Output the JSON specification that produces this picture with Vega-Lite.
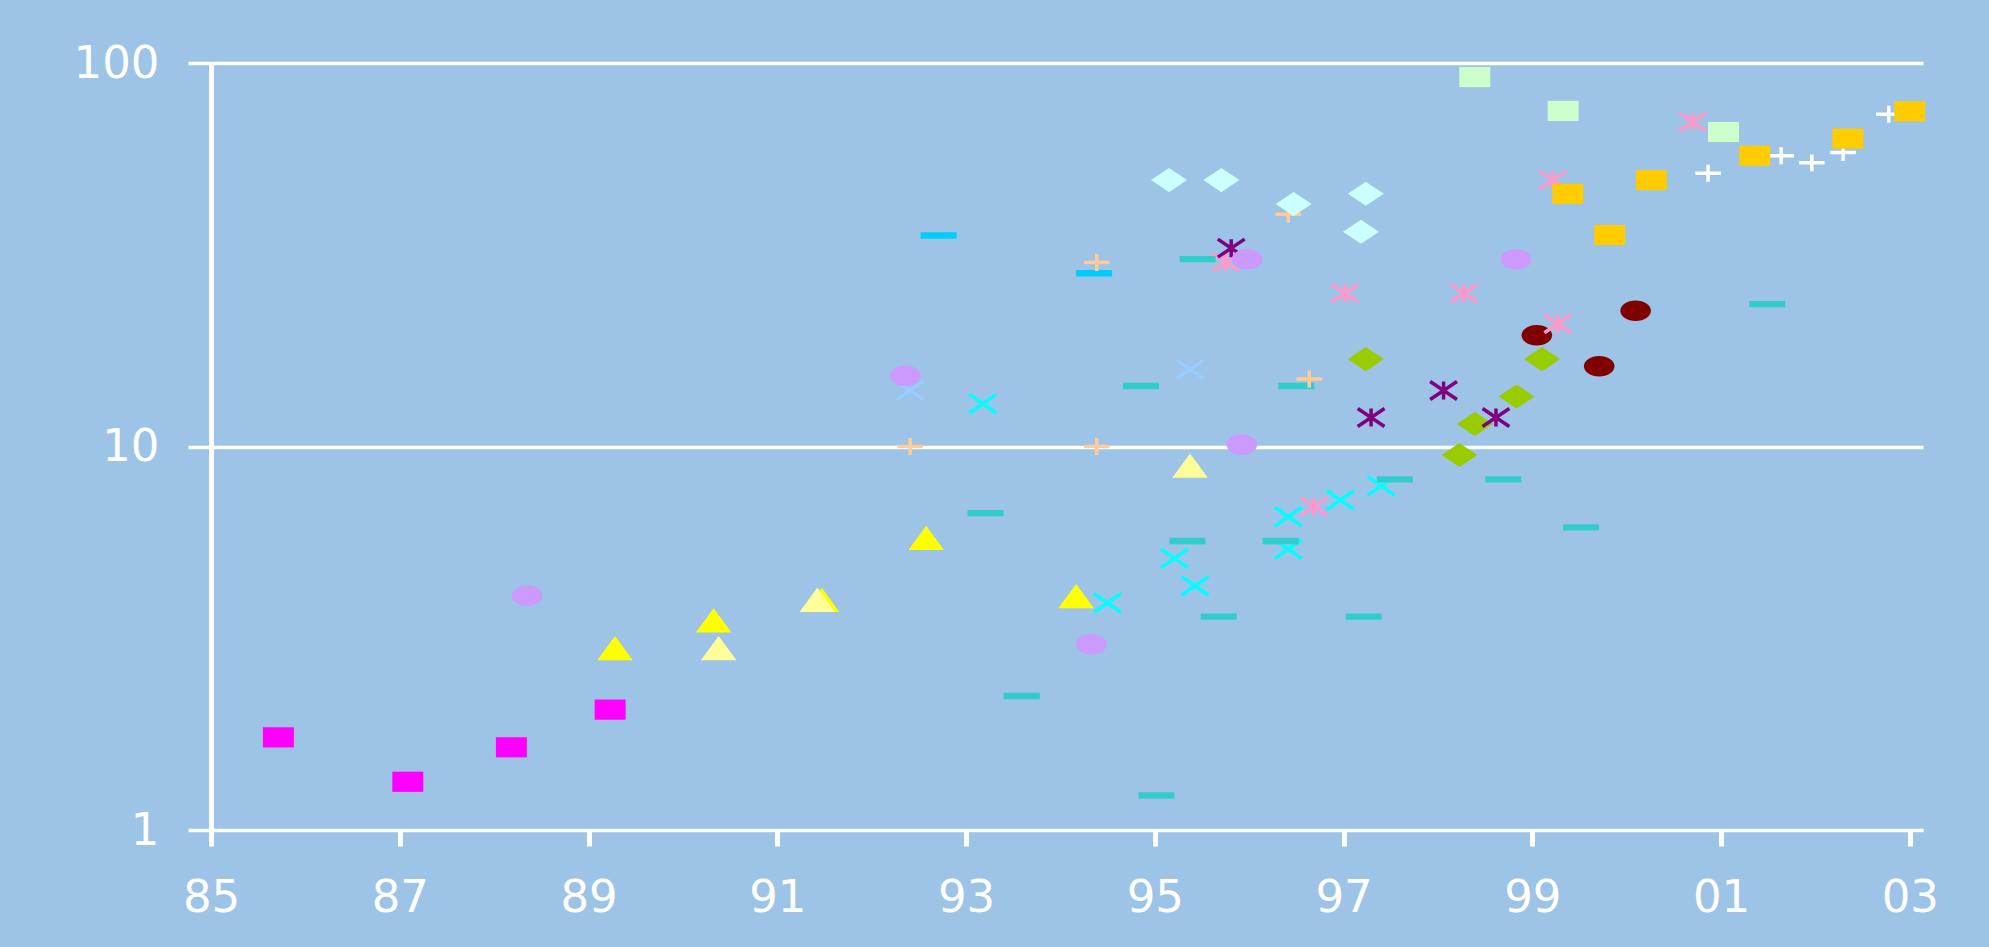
{
  "$schema": "https://vega.github.io/schema/vega-lite/v6.json",
  "width": 1712,
  "height": 767,
  "autosize": {"type": "none"},
  "padding": {"left": 211, "top": 63, "right": 66, "bottom": 117},
  "background": "#9DC3E6",
  "config": {
    "view": {"stroke": null},
    "axis": {
      "labelFont": "DejaVu Sans",
      "labelFontSize": 45,
      "labelColor": "#FFFFFF",
      "domainColor": "#FFFFFF",
      "tickColor": "#FFFFFF",
      "gridColor": "#FFFFFF",
      "gridOpacity": 1,
      "title": null,
      "labelOverlap": false,
      "labelFlush": false
    }
  },
  "data": {
    "values": [
      {"s": "s01", "yr": 1999.048, "v": 19.5},
      {"s": "s01", "yr": 2000.095, "v": 22.6},
      {"s": "s01", "yr": 1999.709, "v": 16.2},

      {"s": "s02", "yr": 2000.863, "v": 51.6},
      {"s": "s02", "yr": 2001.637, "v": 57.3},
      {"s": "s02", "yr": 2001.962, "v": 54.9},
      {"s": "s02", "yr": 2002.293, "v": 58.4},
      {"s": "s02", "yr": 2002.777, "v": 73.5},

      {"s": "s03", "yr": 1995.752, "v": 30.2},
      {"s": "s03", "yr": 1996.689, "v": 6.97},
      {"s": "s03", "yr": 1997.018, "v": 25.1},
      {"s": "s03", "yr": 1998.278, "v": 25.1},
      {"s": "s03", "yr": 1999.215, "v": 49.5},
      {"s": "s03", "yr": 1999.270, "v": 20.9},
      {"s": "s03", "yr": 2000.696, "v": 70.3},

      {"s": "s04", "yr": 1999.377, "v": 45.6},
      {"s": "s04", "yr": 1999.820, "v": 35.6},
      {"s": "s04", "yr": 2000.262, "v": 49.5},
      {"s": "s04", "yr": 2001.357, "v": 57.3},
      {"s": "s04", "yr": 2002.344, "v": 63.5},
      {"s": "s04", "yr": 2003.000, "v": 74.8},

      {"s": "s05", "yr": 1993.178, "v": 12.93},
      {"s": "s05", "yr": 1994.499, "v": 3.91},
      {"s": "s05", "yr": 1995.208, "v": 5.11},
      {"s": "s05", "yr": 1995.426, "v": 4.33},
      {"s": "s05", "yr": 1996.415, "v": 6.56},
      {"s": "s05", "yr": 1996.415, "v": 5.40},
      {"s": "s05", "yr": 1996.966, "v": 7.25},
      {"s": "s05", "yr": 1997.399, "v": 7.89},

      {"s": "s06", "yr": 1993.207, "v": 6.70},
      {"s": "s06", "yr": 1993.591, "v": 2.236},
      {"s": "s06", "yr": 1995.019, "v": 1.23},
      {"s": "s06", "yr": 1995.345, "v": 5.67},
      {"s": "s06", "yr": 1995.677, "v": 3.60},
      {"s": "s06", "yr": 1996.334, "v": 5.67},
      {"s": "s06", "yr": 1997.213, "v": 3.60},
      {"s": "s06", "yr": 1997.543, "v": 8.21},
      {"s": "s06", "yr": 1998.694, "v": 8.21},
      {"s": "s06", "yr": 1999.517, "v": 6.15},
      {"s": "s06", "yr": 1995.455, "v": 30.8},
      {"s": "s06", "yr": 1994.854, "v": 14.38},
      {"s": "s06", "yr": 1996.499, "v": 14.38},
      {"s": "s06", "yr": 2001.491, "v": 23.5},

      {"s": "s07", "yr": 1989.281, "v": 2.98},
      {"s": "s07", "yr": 1990.326, "v": 3.52},
      {"s": "s07", "yr": 1991.471, "v": 3.98},
      {"s": "s07", "yr": 1992.578, "v": 5.78},
      {"s": "s07", "yr": 1994.167, "v": 4.07},

      {"s": "s08", "yr": 1990.379, "v": 2.98},
      {"s": "s08", "yr": 1991.424, "v": 3.98},
      {"s": "s08", "yr": 1995.374, "v": 8.91},

      {"s": "s09", "yr": 1992.408, "v": 14.0},
      {"s": "s09", "yr": 1995.374, "v": 15.9},

      {"s": "s10", "yr": 1992.710, "v": 35.5},
      {"s": "s10", "yr": 1994.357, "v": 28.3},

      {"s": "s11", "yr": 1992.408, "v": 10.0},
      {"s": "s11", "yr": 1994.385, "v": 10.0},
      {"s": "s11", "yr": 1994.385, "v": 30.2},
      {"s": "s11", "yr": 1996.415, "v": 40.3},
      {"s": "s11", "yr": 1996.637, "v": 15.0},

      {"s": "s12", "yr": 1997.236, "v": 16.9},
      {"s": "s12", "yr": 1998.228, "v": 9.5},
      {"s": "s12", "yr": 1998.391, "v": 11.45},
      {"s": "s12", "yr": 1998.833, "v": 13.5},
      {"s": "s12", "yr": 1999.103, "v": 16.9},

      {"s": "s13", "yr": 1995.810, "v": 32.9},
      {"s": "s13", "yr": 1997.292, "v": 11.9},
      {"s": "s13", "yr": 1998.060, "v": 14.0},
      {"s": "s13", "yr": 1998.615, "v": 11.9},

      {"s": "s14", "yr": 1988.349, "v": 4.08},
      {"s": "s14", "yr": 1992.356, "v": 15.3},
      {"s": "s14", "yr": 1994.328, "v": 3.05},
      {"s": "s14", "yr": 1995.923, "v": 10.1},
      {"s": "s14", "yr": 1995.979, "v": 30.8},
      {"s": "s14", "yr": 1998.829, "v": 30.8},

      {"s": "s15", "yr": 1985.714, "v": 1.744},
      {"s": "s15", "yr": 1987.085, "v": 1.336},
      {"s": "s15", "yr": 1988.183, "v": 1.643},
      {"s": "s15", "yr": 1989.229, "v": 2.06},

      {"s": "s16", "yr": 1995.151, "v": 49.5},
      {"s": "s16", "yr": 1995.705, "v": 49.5},
      {"s": "s16", "yr": 1996.472, "v": 42.9},
      {"s": "s16", "yr": 1997.185, "v": 36.3},
      {"s": "s16", "yr": 1997.236, "v": 45.6},

      {"s": "s17", "yr": 1998.391, "v": 91.9},
      {"s": "s17", "yr": 1999.327, "v": 75.0},
      {"s": "s17", "yr": 2001.026, "v": 66.1}
    ]
  },
  "mark": {"type": "point", "opacity": 1, "size": 1296},
  "encoding": {
    "x": {
      "field": "yr",
      "type": "quantitative",
      "scale": {"domain": [1985, 2003.14], "nice": false, "zero": false},
      "axis": {
        "values": [1985, 1987, 1989, 1991, 1993, 1995, 1997, 1999, 2001, 2003],
        "labelExpr": "slice(toString(datum.value), 2)",
        "grid": false,
        "domainWidth": 3,
        "tickWidth": 5,
        "tickSize": 16,
        "labelPadding": 29
      }
    },
    "y": {
      "field": "v",
      "type": "quantitative",
      "scale": {"type": "log", "domain": [1, 100], "nice": false},
      "axis": {
        "values": [1, 10, 100],
        "labelExpr": "toString(datum.value)",
        "grid": true,
        "gridWidth": 3.5,
        "domainWidth": 5,
        "tickWidth": 3.5,
        "tickSize": 23,
        "labelPadding": 29
      }
    },
    "shape": {
      "field": "s",
      "type": "nominal",
      "legend": null,
      "scale": {
        "domain": ["s01", "s02", "s03", "s04", "s05", "s06", "s07", "s08", "s09", "s10", "s11", "s12", "s13", "s14", "s15", "s16", "s17"],
        "range": [
          "M-0.85,0A0.85,0.57 0 1,0 0.85,0A0.85,0.57 0 1,0 -0.85,0Z",
          "M-0.71,0H0.71M0,-0.47V0.47",
          "M-0.745,-0.5L0.745,0.5M-0.745,0.5L0.745,-0.5M0,-0.5V0.5",
          "M-0.86,-0.56H0.86V0.56H-0.86Z",
          "M-0.75,-0.52L0.75,0.52M-0.75,0.52L0.75,-0.52",
          "M-1,-0.175H1V0.175H-1Z",
          "M0,-0.675L0.99,0.675H-0.99Z",
          "M0,-0.675L0.99,0.675H-0.99Z",
          "M-0.75,-0.52L0.75,0.52M-0.75,0.52L0.75,-0.52",
          "M-1,-0.175H1V0.175H-1Z",
          "M-0.71,0H0.71M0,-0.47V0.47",
          "M0,-0.67L1,0L0,0.67L-1,0Z",
          "M-0.745,-0.5L0.745,0.5M-0.745,0.5L0.745,-0.5M0,-0.5V0.5",
          "M-0.85,0A0.85,0.57 0 1,0 0.85,0A0.85,0.57 0 1,0 -0.85,0Z",
          "M-0.86,-0.56H0.86V0.56H-0.86Z",
          "M0,-0.67L1,0L0,0.67L-1,0Z",
          "M-0.86,-0.56H0.86V0.56H-0.86Z"
        ]
      }
    },
    "fill": {
      "field": "s",
      "type": "nominal",
      "legend": null,
      "scale": {
        "domain": ["s01", "s02", "s03", "s04", "s05", "s06", "s07", "s08", "s09", "s10", "s11", "s12", "s13", "s14", "s15", "s16", "s17"],
        "range": ["#800000", "#FFFFFF", "#FF99CC", "#FFCC00", "#00FFFF", "#33CCCC", "#FFFF00", "#FFFF99", "#99CCFF", "#00CCFF", "#FFCC99", "#99CC00", "#800080", "#CC99FF", "#FF00FF", "#CCFFFF", "#CCFFCC"]
      }
    },
    "stroke": {
      "field": "s",
      "type": "nominal",
      "legend": null,
      "scale": {
        "domain": ["s01", "s02", "s03", "s04", "s05", "s06", "s07", "s08", "s09", "s10", "s11", "s12", "s13", "s14", "s15", "s16", "s17"],
        "range": ["#800000", "#FFFFFF", "#FF99CC", "#FFCC00", "#00FFFF", "#33CCCC", "#FFFF00", "#FFFF99", "#99CCFF", "#00CCFF", "#FFCC99", "#99CC00", "#800080", "#CC99FF", "#FF00FF", "#CCFFFF", "#CCFFCC"]
      }
    },
    "strokeWidth": {
      "field": "s",
      "type": "nominal",
      "legend": null,
      "scale": {
        "type": "ordinal",
        "domain": ["s01", "s02", "s03", "s04", "s05", "s06", "s07", "s08", "s09", "s10", "s11", "s12", "s13", "s14", "s15", "s16", "s17"],
        "range": [0, 3.5, 3.5, 0, 3.5, 0, 0, 0, 3.5, 0, 3.5, 0, 3.5, 0, 0, 0, 0]
      }
    }
  }
}
